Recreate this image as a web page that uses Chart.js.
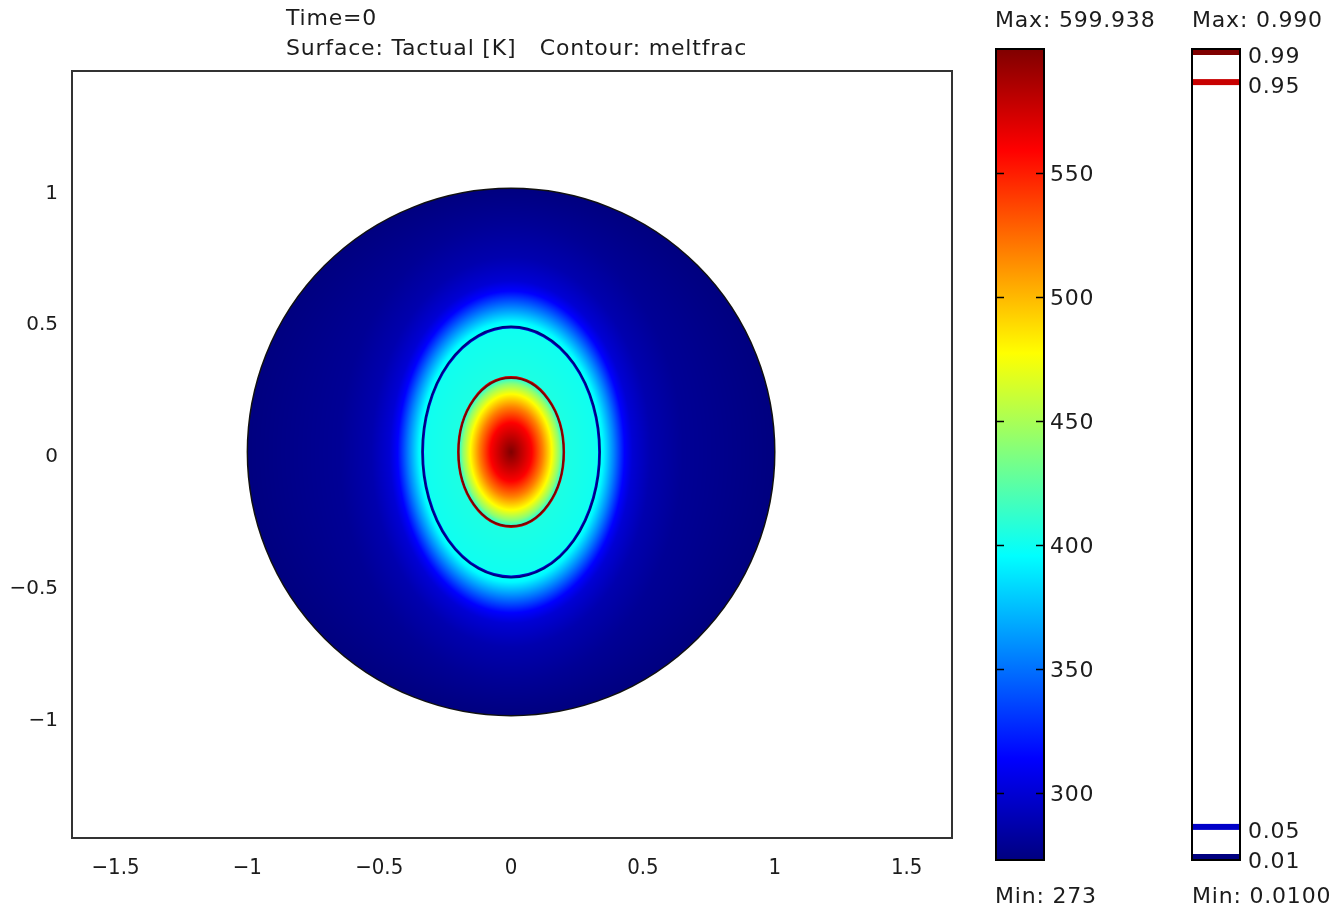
<!DOCTYPE html>
<html>
<head>
<meta charset="utf-8">
<script src="https://cdn.jsdelivr.net/npm/chart.js@4.4.1/dist/chart.umd.min.js"></script>
<style>html,body{margin:0;background:#fff}canvas{display:block}</style>
</head>
<body>
<canvas id="c" width="1332" height="911"></canvas>
<script>
// axes
const xTicks = [-1.5, -1, -0.5, 0, 0.5, 1, 1.5];
const yTicks = [-1, -0.5, 0, 0.5, 1];
const xRange = [-1.665, 1.672];
const yRange = [-1.464, 1.445];

// Tactual [K] isotherms, centre outward: temperature, x semi-axis, y semi-axis
const isoT  = [599.938, 560, 518, 477, 440, 412, 405, 400, 393, 355, 314, 300, 288, 280, 273];
const isoAx = [0, 0.078, 0.12, 0.155, 0.183, 0.196, 0.2, 0.336, 0.35, 0.39, 0.43, 0.46, 0.53, 0.65, 1];
const isoAy = [0, 0.11, 0.17, 0.22, 0.258, 0.277, 0.282, 0.474, 0.495, 0.55, 0.61, 0.65, 0.74, 0.87, 1];
const domainR = 1;

// meltfrac contours
const meltLevels = [0.01, 0.05, 0.95, 0.99];
const meltAx = [0.337, 0.334, 0.201, 0.199];
const meltAy = [0.476, 0.472, 0.284, 0.281];
const meltColors = ['#000080', '#0000c8', '#c80000', '#800000'];
const drawOrder = [1, 0, 2, 3];

// colour bars
const tMin = 273, tMax = 599.938;
const cbTicks = [300, 350, 400, 450, 500, 550];
const meltMin = 0.01, meltMax = 0.99;

const titleLines = ['Time=0', 'Surface: Tactual [K]   Contour: meltfrac'];

const FONT = "'DejaVu Sans', 'Noto Sans', sans-serif";
const TXT = '#1c1c1c';
const fmt = v => String(v).replace('-', '\u2212');

const jet = v => {
  const c = t => Math.round(255 * Math.max(0, Math.min(1, 1.5 - Math.abs(t))));
  return [c(4 * v - 3), c(4 * v - 2), c(4 * v - 1)];
};
const jetCss = v => `rgb(${jet(v).join(',')})`;

// temperature between the two isotherm ellipses that bracket (x, y), linear along the ray from the centre
function tempAt(x, y) {
  let prevD = 0;
  for (let k = 1; k < isoT.length; k++) {
    const r = Math.hypot(x / isoAx[k], y / isoAy[k]);
    const d = r === 0 ? Infinity : 1 / r;
    if (d >= 1) {
      const t = (1 - prevD) / (d - prevD);
      return isoT[k - 1] + t * (isoT[k] - isoT[k - 1]);
    }
    prevD = d;
  }
  return isoT[isoT.length - 1];
}

const fieldPlugin = {
  id: 'field',
  beforeDatasetsDraw(chart) {
    const { ctx, chartArea: a, scales: { x: xs, y: ys } } = chart;
    const w = Math.round(a.right - a.left), h = Math.round(a.bottom - a.top);
    const off = document.createElement('canvas');
    off.width = w; off.height = h;
    const octx = off.getContext('2d');
    const img = octx.createImageData(w, h);
    const xv = Array.from({ length: w }, (_, i) => xs.getValueForPixel(a.left + i + 0.5));
    const yv = Array.from({ length: h }, (_, j) => ys.getValueForPixel(a.top + j + 0.5));
    for (let j = 0; j < h; j++) {
      for (let i = 0; i < w; i++) {
        const x = xv[i], y = yv[j];
        if (x * x + y * y > domainR * domainR) continue;
        const [r, g, b] = jet((tempAt(x, y) - tMin) / (tMax - tMin));
        const p = (j * w + i) * 4;
        img.data[p] = r; img.data[p + 1] = g; img.data[p + 2] = b; img.data[p + 3] = 255;
      }
    }
    octx.putImageData(img, 0, 0);
    ctx.drawImage(off, a.left, a.top);

    const cx = xs.getPixelForValue(0), cy = ys.getPixelForValue(0);
    const ell = (ax, ay) => {
      ctx.beginPath();
      ctx.ellipse(cx, cy, xs.getPixelForValue(ax) - cx, cy - ys.getPixelForValue(ay), 0, 0, 2 * Math.PI);
    };
    ctx.save();
    drawOrder.forEach(i => {
      ell(meltAx[i], meltAy[i]);
      ctx.strokeStyle = meltColors[i]; ctx.lineWidth = 2; ctx.stroke();
    });
    ell(domainR, domainR);
    ctx.strokeStyle = '#111'; ctx.lineWidth = 1.5; ctx.stroke();
    ctx.restore();
  },
  afterDraw(chart) {
    const { ctx, chartArea: a } = chart;
    ctx.save();
    // frame
    ctx.strokeStyle = '#333'; ctx.lineWidth = 2;
    ctx.strokeRect(a.left, a.top, a.right - a.left, a.bottom - a.top);

    ctx.fillStyle = TXT; ctx.font = `22px ${FONT}`; ctx.letterSpacing = '0.8px';
    ctx.textAlign = 'left'; ctx.textBaseline = 'middle';
    titleLines.forEach((s, i) => ctx.fillText(s, 286, 19 + i * 30));

    // temperature colour bar
    const cb = { x: 996, y: 49, w: 48, h: 811 };
    const g = ctx.createLinearGradient(0, cb.y + cb.h, 0, cb.y);
    [0, 0.125, 0.375, 0.625, 0.875, 1].forEach(s => g.addColorStop(s, jetCss(s)));
    ctx.fillStyle = g; ctx.fillRect(cb.x, cb.y, cb.w, cb.h);
    ctx.strokeStyle = '#000'; ctx.lineWidth = 2;
    ctx.strokeRect(cb.x, cb.y, cb.w, cb.h);
    ctx.fillStyle = TXT;
    cbTicks.forEach(v => {
      const y = Math.round(cb.y + cb.h * (tMax - v) / (tMax - tMin)) + 0.5;
      ctx.beginPath();
      ctx.moveTo(cb.x, y); ctx.lineTo(cb.x + 8, y);
      ctx.moveTo(cb.x + cb.w - 8, y); ctx.lineTo(cb.x + cb.w, y);
      ctx.lineWidth = 1.5; ctx.stroke();
      ctx.fillText(String(v), cb.x + cb.w + 6, y + 2);
    });
    ctx.fillText('Max: ' + tMax.toFixed(3), 995, 21);
    ctx.fillText('Min: ' + tMin, 995, 897);

    // meltfrac contour legend
    const mb = { x: 1192, y: 49, w: 48, h: 811 };
    ctx.fillStyle = '#fff'; ctx.fillRect(mb.x, mb.y, mb.w, mb.h);
    meltLevels.forEach((lv, i) => {
      let y = mb.y + mb.h * (meltMax - lv) / (meltMax - meltMin);
      y = Math.max(mb.y + 3, Math.min(mb.y + mb.h - 3, y));
      ctx.fillStyle = meltColors[i]; ctx.fillRect(mb.x, y - 3, mb.w, 6);
      ctx.fillStyle = TXT; ctx.fillText(lv.toFixed(2), mb.x + mb.w + 8, y + 5);
    });
    ctx.strokeStyle = '#000'; ctx.lineWidth = 2;
    ctx.strokeRect(mb.x, mb.y, mb.w, mb.h);
    ctx.fillStyle = TXT;
    ctx.fillText('Max: ' + meltMax.toFixed(3), 1192, 21);
    ctx.fillText('Min: ' + meltMin.toFixed(4), 1192, 897);
    ctx.restore();
  }
};

new Chart(document.getElementById('c'), {
  type: 'scatter',
  data: { datasets: [{ data: [], pointRadius: 0 }] },
  options: {
    responsive: false, animation: false,
    layout: { padding: { top: 71, right: 380, left: 0, bottom: 0 } },
    plugins: { legend: { display: false }, tooltip: { enabled: false } },
    scales: {
      x: {
        type: 'linear', min: xRange[0], max: xRange[1],
        grid: { display: false, drawTicks: false }, border: { display: false },
        afterBuildTicks: s => { s.ticks = xTicks.map(v => ({ value: v })); },
        afterFit: s => { s.height = 73; },
        ticks: {
          autoSkip: false, maxRotation: 0, padding: 17, color: TXT, callback: fmt,
          font: { family: "'DejaVu Sans Condensed', 'Liberation Sans Narrow', 'DejaVu Sans'", size: 22 },
        },
      },
      y: {
        type: 'linear', min: yRange[0], max: yRange[1],
        grid: { display: false, drawTicks: false }, border: { display: false },
        afterBuildTicks: s => { s.ticks = yTicks.map(v => ({ value: v })); },
        afterFit: s => { s.width = 72; },
        ticks: { autoSkip: false, padding: 14, labelOffset: 5, color: TXT, callback: fmt, font: { family: FONT, size: 20 } },
      },
    },
  },
  plugins: [fieldPlugin],
});
</script>
</body>
</html>
